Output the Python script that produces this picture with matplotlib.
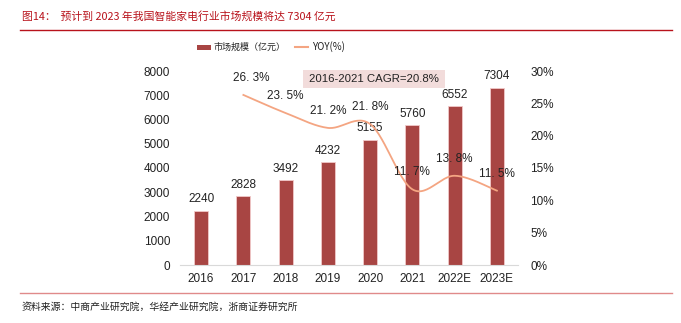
import matplotlib
matplotlib.use("Agg")
import matplotlib.pyplot as plt
import numpy as np
from matplotlib.patches import Rectangle
from matplotlib.lines import Line2D

plt.rcParams['font.family'] = ['Liberation Sans', 'Noto Sans CJK SC', 'DejaVu Sans']

categories = ["2016", "2017", "2018", "2019", "2020", "2021", "2022E", "2023E"]
market_size = [2240, 2828, 3492, 4232, 5155, 5760, 6552, 7304]
yoy_categories = ["2017", "2018", "2019", "2020", "2021", "2022E", "2023E"]
yoy = [26.3, 23.5, 21.2, 21.8, 11.7, 13.8, 11.5]
left_ticks = [0, 1000, 2000, 3000, 4000, 5000, 6000, 7000, 8000]
right_ticks = [0, 5, 10, 15, 20, 25, 30]

title = "图14：  预计到 2023 年我国智能家电行业市场规模将达 7304 亿元"
source = "资料来源：中商产业研究院，华经产业研究院，浙商证券研究所"
cagr_text = "2016-2021 CAGR=20.8%"

W, H = 681, 323
fig = plt.figure(figsize=(W / 100, H / 100), dpi=100)

bar_color = "#a84543"
line_color = "#f4a582"
red = "#b8121b"
cjk = ['Noto Sans CJK SC', 'DejaVu Sans']

ax = fig.add_axes([180 / W, 1 - 265 / H, 338 / W, 194 / H])
x = np.arange(len(categories))
ax.bar(x, market_size, width=0.33, color=bar_color, edgecolor="#f2c9c9", linewidth=0.6, zorder=2)
ax.set_xlim(-0.5, len(categories) - 0.5)
ax.set_ylim(0, 8000)
ax.set_yticks(left_ticks)
ax.set_yticklabels([str(t) for t in left_ticks], fontsize=8.5, color="#222222")
ax.set_xticks(x)
ax.set_xticklabels(categories, fontsize=8.5, color="#222222")
ax.tick_params(length=0)
ax.tick_params(axis='y', pad=7)
ax.tick_params(axis='x', pad=6)
for s in ["top", "right", "left"]:
    ax.spines[s].set_visible(False)
ax.spines["bottom"].set_color("#d9d9d9")
for xi, v in zip(x, market_size):
    ax.annotate(str(v), (xi, v), xytext=(0, 4), textcoords="offset points",
                ha="center", va="bottom", fontsize=8.5, color="#222222")

ax2 = ax.twinx()
ax2.set_ylim(0, 30)
ax2.set_yticks(right_ticks)
ax2.set_yticklabels([f"{t}%" for t in right_ticks], fontsize=8.5, color="#222222")
ax2.tick_params(length=0, pad=9)
for s in ["top", "right", "left", "bottom"]:
    ax2.spines[s].set_visible(False)

# Smoothed (Excel-style Bezier) line through the YOY points
xi_pts = np.array([categories.index(c) for c in yoy_categories], dtype=float)
yi_pts = np.array(yoy, dtype=float)
P = np.column_stack([xi_pts, yi_pts])
Pext = np.vstack([P[0], P, P[-1]])
curve = []
t = np.linspace(0, 1, 30)
for i in range(1, len(Pext) - 2):
    p0, p1, p2, p3 = Pext[i - 1], Pext[i], Pext[i + 1], Pext[i + 2]
    c1 = p1 + (p2 - p0) / 6
    c2 = p2 - (p3 - p1) / 6
    seg = ((1 - t) ** 3)[:, None] * p1 + (3 * (1 - t) ** 2 * t)[:, None] * c1 + \
          (3 * (1 - t) * t ** 2)[:, None] * c2 + (t ** 3)[:, None] * p2
    curve.append(seg)
curve = np.vstack(curve)
ax2.plot(curve[:, 0], curve[:, 1], color=line_color, lw=1.3, zorder=3)

offsets = {0: (6, 8), 1: (0, 8), 2: (0, 8), 3: (0, 8), 4: (0, 8), 5: (0, 8), 6: (0, 8)}
for k, (xv, v) in enumerate(zip(xi_pts, yoy)):
    dx, dy = offsets[k]
    ax2.annotate(f"{v:.1f}%".replace(".", ". "), (xv, v), xytext=(dx, dy), textcoords="offset points",
                 ha="center", va="bottom", fontsize=8.5, color="#222222", zorder=4)

# CAGR box
fig.patches.append(Rectangle((303 / W, 1 - 88 / H), 142 / W, 18 / H, transform=fig.transFigure,
                             facecolor="#f2dcdb", edgecolor="none", zorder=1))
fig.text(374 / W, 1 - 79 / H, cagr_text, ha="center", va="center", fontsize=8.2, color="#222222")

# Legend
fig.patches.append(Rectangle((197 / W, 1 - 50 / H), 14 / W, 5 / H, transform=fig.transFigure,
                             facecolor=bar_color, edgecolor="none"))
fig.text(214 / W, 1 - 47 / H, "市场规模（亿元）", ha="left", va="center", fontsize=6.5,
         color="#222222", family=cjk)
fig.lines.append(Line2D([295 / W, 308 / W], [1 - 47 / H, 1 - 47 / H], transform=fig.transFigure,
                        color=line_color, lw=1.5))
fig.text(312 / W, 1 - 47 / H, "YOY(%)", ha="left", va="center", fontsize=7, color="#222222",
         family=cjk)

# Title and rules
fig.text(22 / W, 1 - 16 / H, title, ha="left", va="center", fontsize=7.8, color=red, family=cjk)
fig.lines.append(Line2D([20 / W, 672 / W], [1 - 30 / H, 1 - 30 / H], transform=fig.transFigure,
                        color=red, lw=1.0))
fig.lines.append(Line2D([20 / W, 672 / W], [1 - 293 / H, 1 - 293 / H], transform=fig.transFigure,
                        color="#e08a8a", lw=1.0))
fig.text(22 / W, 1 - 307 / H, source, ha="left", va="center", fontsize=7.1, color="#222222", family=cjk)

fig.savefig("out.png", dpi=100)
